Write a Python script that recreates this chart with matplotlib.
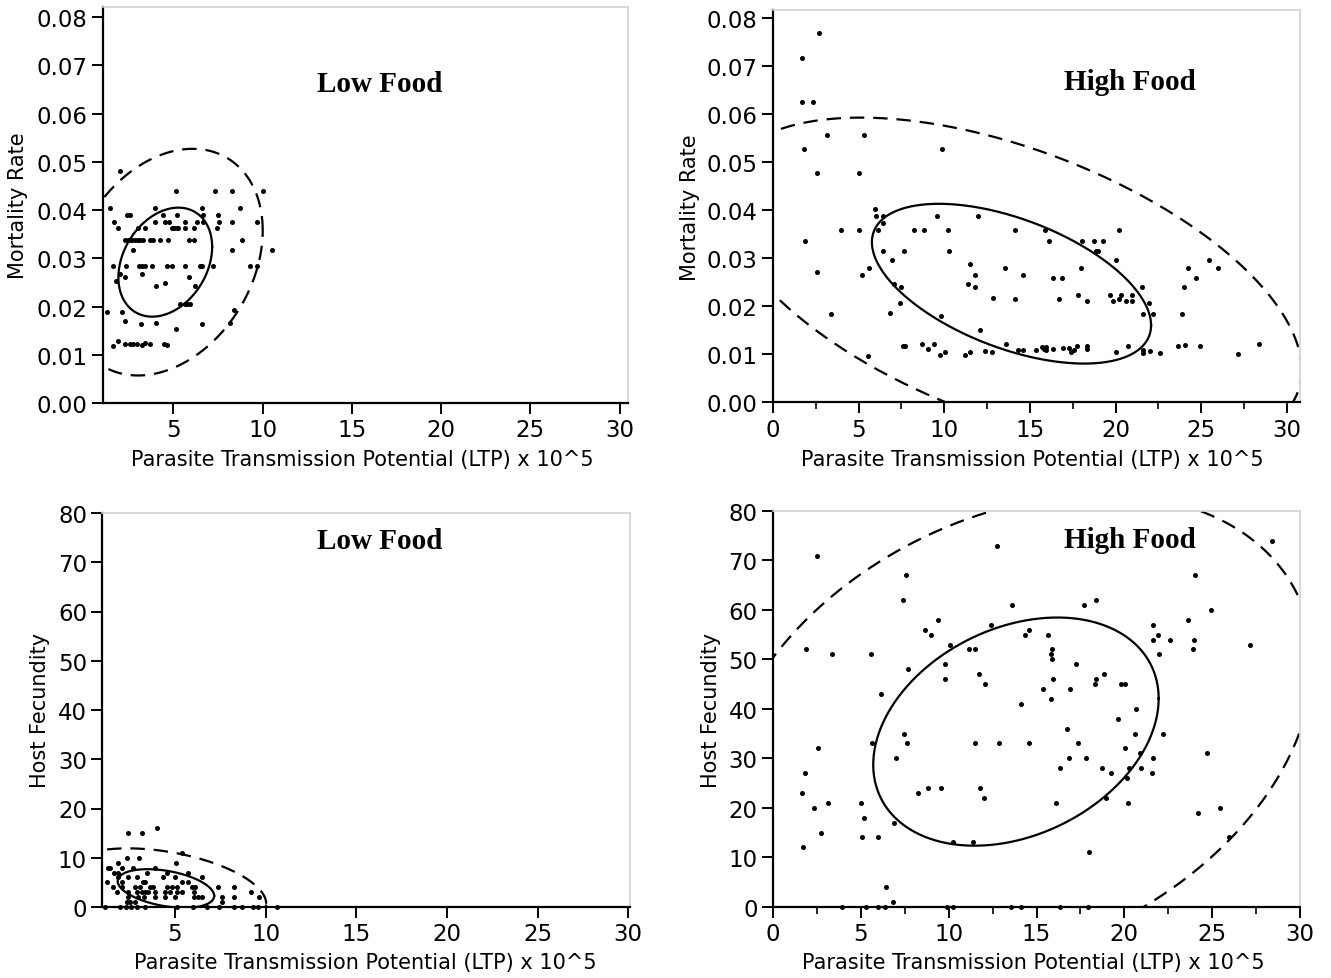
import numpy as np
import matplotlib
matplotlib.use("Agg")
import matplotlib.pyplot as plt
from matplotlib.ticker import MultipleLocator, FormatStrFormatter

# ---------------- data ----------------
# Top-left: Low food, mortality rate vs LTP
tl_x = [2.04, 5.17, 7.36, 8.26, 10.04, 1.46, 3.95, 6.61, 8.72,
        2.40, 2.58, 4.45, 5.20, 6.64, 7.51,
        1.68, 3.95, 4.51, 4.77, 5.63, 6.33, 6.64, 7.58, 8.26, 9.70,
        1.93, 3.05, 3.43, 4.93, 5.06, 5.19, 5.26, 5.67, 6.14, 7.45,
        2.30, 2.45, 2.58, 2.71, 2.86, 3.01, 3.15, 3.28, 3.71, 3.84, 4.27, 4.70, 5.86, 6.14, 8.82,
        2.73, 8.30, 10.55,
        1.63, 2.36, 3.10, 3.27, 3.42, 3.80, 4.64, 4.92, 5.67, 6.51, 6.61, 7.20, 9.29, 9.70,
        2.02, 2.30, 3.24, 1.80, 5.88, 4.04, 4.55, 6.20,
        5.39, 5.63, 5.77, 5.91, 1.27, 2.11, 8.39,
        2.30, 3.20, 4.04, 6.63, 8.20, 5.17,
        1.63, 1.91, 2.30, 2.55, 2.77, 2.96, 3.24, 3.43, 3.71, 4.49, 4.64]
tl_y = [0.0480, 0.0439, 0.0439, 0.0439, 0.0439, 0.0404, 0.0404, 0.0404, 0.0404,
        0.0390, 0.0390, 0.0390, 0.0390, 0.0390, 0.0390,
        0.0376, 0.0376, 0.0376, 0.0376, 0.0376, 0.0376, 0.0376, 0.0376, 0.0376, 0.0376,
        0.0362, 0.0362, 0.0362, 0.0362, 0.0362, 0.0362, 0.0362, 0.0362, 0.0362, 0.0362,
        0.0338, 0.0338, 0.0338, 0.0338, 0.0338, 0.0338, 0.0338, 0.0338, 0.0338, 0.0338, 0.0338, 0.0338, 0.0338, 0.0338, 0.0338,
        0.0318, 0.0318, 0.0318,
        0.0283, 0.0283, 0.0283, 0.0283, 0.0283, 0.0283, 0.0283, 0.0283, 0.0283, 0.0283, 0.0283, 0.0283, 0.0283, 0.0283,
        0.0267, 0.0262, 0.0267, 0.0253, 0.0262, 0.0243, 0.0248, 0.0243,
        0.0205, 0.0205, 0.0205, 0.0205, 0.0189, 0.0189, 0.0193,
        0.0171, 0.0164, 0.0166, 0.0164, 0.0166, 0.0153,
        0.0119, 0.0129, 0.0122, 0.0122, 0.0122, 0.0122, 0.0121, 0.0124, 0.0122, 0.0123, 0.0121]

# Top-right: High food, mortality rate vs LTP
tr_x = [2.70, 1.69, 1.69, 2.32, 3.13, 5.31, 1.83, 9.88, 2.57, 5.04,
        5.97, 6.01, 6.44, 6.44, 9.56, 11.99,
        3.95, 5.02, 6.15, 8.23, 8.83, 10.23, 14.11, 15.88, 20.22,
        1.89, 16.09, 18.02, 18.76, 19.26,
        6.44, 7.65, 10.26, 18.84, 18.99,
        6.93, 20.04, 25.47,
        11.52, 13.56, 5.62, 17.96, 24.21, 25.98,
        2.55, 5.20, 11.81, 14.58, 16.33, 16.85, 24.69,
        7.06, 7.49, 11.38, 11.77, 23.99, 21.56,
        12.86, 14.15, 16.70, 17.80, 18.31,
        19.67, 19.87, 20.22, 20.32, 20.61, 20.94, 20.94,
        7.43, 21.97,
        6.83, 3.40, 9.81, 21.62, 22.18, 23.89,
        12.08,
        7.57, 7.72, 8.72, 9.07, 9.42, 9.77, 10.06, 11.19, 11.52, 12.39, 12.77, 13.62,
        14.32, 14.61, 15.37, 15.68, 15.82, 15.94, 15.94, 16.33,
        16.95, 17.30, 17.41, 17.57, 17.73, 18.35, 18.35, 20.00, 20.71, 21.62, 21.62,
        22.00, 22.59, 23.63, 24.05, 24.95, 27.16, 28.39,
        5.56]
tr_y = [0.0770, 0.0716, 0.0626, 0.0626, 0.0557, 0.0557, 0.0528, 0.0528, 0.0478, 0.0478,
        0.0402, 0.0387, 0.0387, 0.0373, 0.0387, 0.0387,
        0.0359, 0.0359, 0.0359, 0.0359, 0.0359, 0.0359, 0.0359, 0.0359, 0.0359,
        0.0336, 0.0336, 0.0335, 0.0335, 0.0335,
        0.0315, 0.0315, 0.0315, 0.0315, 0.0315,
        0.0297, 0.0297, 0.0297,
        0.0288, 0.0280, 0.0280, 0.0279, 0.0279, 0.0279,
        0.0272, 0.0265, 0.0265, 0.0265, 0.0259, 0.0258, 0.0258,
        0.0246, 0.0241, 0.0246, 0.0241, 0.0240, 0.0240,
        0.0218, 0.0215, 0.0215, 0.0224, 0.0211,
        0.0224, 0.0211, 0.0215, 0.0224, 0.0211, 0.0224, 0.0211,
        0.0206, 0.0206,
        0.0187, 0.0184, 0.0180, 0.0184, 0.0184, 0.0184,
        0.0151,
        0.0118, 0.0118, 0.0121, 0.0111, 0.0121, 0.0098, 0.0104, 0.0098, 0.0105, 0.0107, 0.0105, 0.0121,
        0.0109, 0.0109, 0.0109, 0.0116, 0.0111, 0.0116, 0.0109, 0.0111,
        0.0113, 0.0113, 0.0104, 0.0109, 0.0118, 0.0118, 0.0111, 0.0105, 0.0118, 0.0109, 0.0102,
        0.0107, 0.0103, 0.0117, 0.0119, 0.0117, 0.0101, 0.0121,
        0.0097]

# Bottom-left: Low food, host fecundity vs LTP
bl_x = [4.02, 2.42, 3.16, 5.06, 5.37, 2.37, 3.01,
        1.29, 1.42, 1.84, 2.09, 2.70, 3.90,
        1.65, 1.84, 3.44, 4.54, 5.73,
        1.23, 1.87, 2.06, 2.42, 2.89, 3.25, 3.35, 4.35, 5.00, 5.37, 5.73, 6.47,
        1.60, 2.06, 2.79, 3.07, 3.62, 3.80, 4.54, 4.82, 5.09, 5.92, 6.10, 7.39, 8.27,
        1.78, 2.42, 2.89, 3.16, 3.35, 3.53, 3.90, 4.45, 4.72, 5.09, 5.40, 6.03, 9.19,
        2.39, 2.94, 3.31, 3.90, 4.45, 5.00, 6.06, 6.29, 6.51, 7.58, 8.27, 9.65,
        2.34, 2.52, 2.79, 7.58,
        1.14, 1.97, 2.28, 2.57, 2.89, 3.35, 5.09, 6.01, 6.75, 7.43, 8.27, 8.68, 9.32, 9.60, 10.61]
bl_y = [16, 15, 15, 9, 11, 10, 10,
        8, 8, 9, 8, 8, 8,
        7, 7, 7, 7, 7,
        5, 6, 5, 6, 6, 5, 5, 6, 6, 5, 5, 6,
        4, 4, 4, 4, 4, 4, 4, 4, 4, 4, 4, 4, 4,
        3, 3, 3, 3, 3, 3, 3, 3, 3, 3, 3, 3, 3,
        2, 2, 2, 2, 2, 2, 2, 2, 2, 2, 2, 2,
        1, 1, 1, 1,
        0, 0, 0, 0, 0, 0, 0, 0, 0, 0, 0, 0, 0, 0, 0]

# Bottom-right: High food, host fecundity vs LTP
br_x = [2.53, 12.75, 7.56, 7.41, 13.62, 9.42, 8.68, 9.02, 12.39, 14.32, 14.55,
        1.86, 3.38, 5.57, 10.07, 11.17, 11.51, 7.71, 9.80, 9.77, 11.74, 12.08, 6.15, 14.13,
        7.47, 2.56, 5.61, 7.62, 11.51, 12.84, 14.55, 7.03, 1.81, 1.67, 2.34, 3.12, 2.72, 1.69,
        5.00, 5.19, 5.04, 5.97, 6.90, 8.23, 8.83, 9.57, 11.80, 11.99, 10.22, 11.36, 6.42, 6.82,
        3.95, 5.28, 5.98, 6.40, 9.90, 10.26, 13.54, 14.11, 16.34, 17.95,
        28.40, 24.03, 17.70, 18.37, 24.92, 23.63, 21.64, 21.94, 21.64, 22.59, 23.99, 23.90, 22.00, 27.16,
        15.65, 15.86, 15.81, 15.90, 17.27, 15.95, 15.38, 15.82, 16.92, 18.37, 18.31, 18.84, 19.83, 20.02,
        20.68, 19.66, 16.72, 20.61, 22.19, 17.38, 16.85, 17.80, 20.04, 20.91, 21.62, 16.32, 18.73,
        19.24, 20.29, 20.93, 20.17, 21.56, 24.70, 18.96, 20.21, 16.11, 24.22, 25.47, 25.98, 18.01]
br_y = [71, 73, 67, 62, 61, 58, 56, 55, 57, 55, 56,
        52, 51, 51, 53, 52, 52, 48, 49, 46, 47, 45, 43, 41,
        35, 32, 33, 33, 33, 33, 33, 30, 27, 23, 20, 21, 15, 12,
        21, 18, 14, 14, 17, 23, 24, 24, 24, 22, 13, 13, 4, 1,
        0, 0, 0, 0, 0, 0, 0, 0, 0, 0,
        74, 67, 61, 62, 60, 58, 57, 55, 54, 54, 54, 52, 51, 53,
        55, 52, 51, 50, 49, 46, 44, 42, 44, 46, 45, 47, 45, 45,
        40, 38, 36, 35, 35, 33, 30, 30, 32, 31, 30, 28, 28,
        27, 28, 28, 26, 27, 31, 22, 21, 21, 19, 20, 14, 11]

# bivariate-normal density ellipse parameters: mean x, mean y, sd x, sd y, correlation
ell_tl = [4.55, 0.0292, 2.23, 0.0096, 0.28]
ell_tr = [13.92, 0.0247, 6.92, 0.01413, -0.52]
ell_bl = [4.50, 3.76, 2.26, 3.33, -0.38]
ell_br = [13.83, 35.4, 6.90, 19.59, 0.29]
levels = [0.50, 0.95]   # solid, dashed

panel_titles = ["Low Food", "High Food", "Low Food", "High Food"]
xlabel = "Parasite Transmission Potential (LTP) x 10^5"
ylabels = ["Mortality Rate", "Mortality Rate", "Host Fecundity", "Host Fecundity"]

# ---------------- figure ----------------
W, H = 1331, 979
fig = plt.figure(figsize=(W / 100, H / 100), dpi=100)


def px_axes(left, top, right, bottom):
    return fig.add_axes([left / W, 1 - bottom / H, (right - left) / W, (bottom - top) / H])


def ellipse(ax, p, level, **kw):
    mx, my, sx, sy, r = p
    c = np.sqrt(-2 * np.log(1 - level))
    t = np.linspace(0, 2 * np.pi, 400)
    ex = mx + c * sx * np.cos(t)
    ey = my + c * sy * (r * np.cos(t) + np.sqrt(1 - r * r) * np.sin(t))
    ax.plot(ex, ey, color="black", **kw)


def style(ax, xlim, ylim, xmajor, ymajor, xminor, yfmt):
    ax.set_xlim(*xlim)
    ax.set_ylim(*ylim)
    ax.xaxis.set_major_locator(MultipleLocator(xmajor))
    ax.yaxis.set_major_locator(MultipleLocator(ymajor))
    if xminor:
        ax.xaxis.set_minor_locator(MultipleLocator(xminor))
    ax.yaxis.set_major_formatter(FormatStrFormatter(yfmt))
    ax.xaxis.set_major_formatter(FormatStrFormatter("%d"))
    for s in ["top", "right"]:
        ax.spines[s].set_color("#d2d2d2")
        ax.spines[s].set_linewidth(1.2)
    for s in ["left", "bottom"]:
        ax.spines[s].set_color("black")
        ax.spines[s].set_linewidth(1.6)
    ax.tick_params(which="major", direction="out", length=8, width=1.4,
                   labelsize=16.5, pad=3, top=False, right=False, colors="black")
    ax.tick_params(which="minor", direction="out", length=5, width=1.2,
                   top=False, right=False)


axes_px = [(102.7, 8, 628, 404), (773, 10.5, 1300, 403.3),
           (102.3, 514, 630, 908), (773, 512, 1300, 907.7)]
xlims = [(1.045, 30.47), (0, 30.76), (0.99, 30.1), (0, 30)]
ylims = [(0, 0.0821), (0, 0.0818), (0, 80), (0, 80)]
xmaj = [5, 5, 5, 5]
xmin = [None, 2.5, None, 2.5]
ymaj = [0.01, 0.01, 10, 10]
yfmt = ["%.2f", "%.2f", "%d", "%d"]
data = [(tl_x, tl_y, ell_tl), (tr_x, tr_y, ell_tr), (bl_x, bl_y, ell_bl), (br_x, br_y, ell_br)]
title_pos = [(0.528, 0.808), (0.677, 0.817), (0.526, 0.929), (0.677, 0.929)]
xlabel_px = [(362, 460), (1032, 460), (365, 963), (1033, 963)]
ylabel_px = [(18, 206), (690, 208), (40, 710), (711, 710)]

for i in range(4):
    ax = px_axes(*axes_px[i])
    style(ax, xlims[i], ylims[i], xmaj[i], ymaj[i], xmin[i], yfmt[i])
    xs, ys, ep = data[i]
    ax.scatter(xs, ys, s=13, color="black", linewidths=0, zorder=3, clip_on=False)
    ellipse(ax, ep, levels[0], lw=1.6)
    ellipse(ax, ep, levels[1], lw=1.6, linestyle=(0, (6.5, 4)))
    ax.text(title_pos[i][0], title_pos[i][1], panel_titles[i], transform=ax.transAxes,
            ha="center", va="center", fontsize=21, fontweight="bold",
            family="Liberation Serif")
    fig.text(xlabel_px[i][0] / W, 1 - xlabel_px[i][1] / H, xlabel, ha="center",
             va="center", fontsize=15)
    fig.text(ylabel_px[i][0] / W, 1 - ylabel_px[i][1] / H, ylabels[i], ha="center",
             va="center", rotation=90, fontsize=15)

fig.savefig("out.png", dpi=100)
